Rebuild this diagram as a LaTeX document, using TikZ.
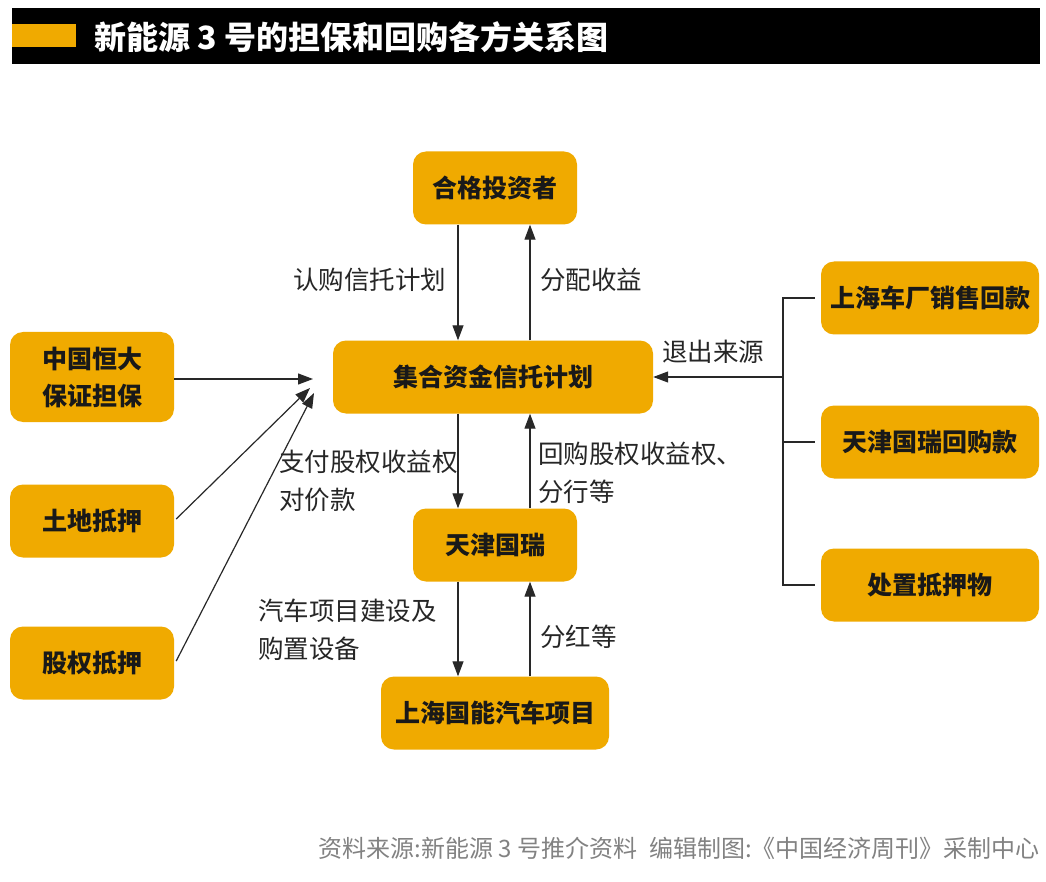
\documentclass[tikz,border=0pt]{standalone}
\usepackage{fontspec}
\setmainfont{Noto Sans CJK SC}
\usetikzlibrary{arrows.meta}
\definecolor{boxc}{RGB}{240,170,0}
\definecolor{linec}{RGB}{40,40,40}
\definecolor{footc}{RGB}{130,130,130}
\tikzset{
  box/.style={fill=boxc, rounded corners=13pt, minimum height=73pt, inner sep=0pt,
    font=\fontsize{25}{37}\selectfont\bfseries, text=black!90, align=center},
  lbl/.style={font=\fontsize{25.5}{38}\selectfont, text=black!85, anchor=west, align=left, inner sep=0pt},
  arr/.style={draw=linec, line width=1.2pt, -{Triangle[length=15pt,width=11pt]}},
  ln/.style={draw=linec, line width=1.2pt}
}
\begin{document}
\begin{tikzpicture}[x=1pt,y=-1pt]
\useasboundingbox (0,0) rectangle (1046,882);
\fill[white] (0,0) rectangle (1046,882);
% title
\fill[black] (12,8) rectangle (1040,64);
\fill[boxc] (12,24) rectangle (76,47);
\node[anchor=west, text=white, font=\fontsize{32}{34}\selectfont\bfseries, inner sep=0pt] (title) at (94,37) {新能源 3 号的担保和回购各方关系图};
% boxes
\node[box, minimum width=164pt] (hg) at (495,188) {合格投资者};
\node[box, minimum width=320pt] (jh) at (493,377) {集合资金信托计划};
\node[box, minimum width=164pt] (tj) at (495,545) {天津国瑞};
\node[box, minimum width=228pt] (sh) at (495,713) {上海国能汽车项目};
\node[box, minimum width=164pt, minimum height=90pt] (zg) at (92,377) {中国恒大\\保证担保};
\node[box, minimum width=164pt] (td) at (92,521) {土地抵押};
\node[box, minimum width=164pt] (gq) at (92,663) {股权抵押};
\node[box, minimum width=218pt] (s1) at (930,298) {上海车厂销售回款};
\node[box, minimum width=218pt] (s2) at (930,442) {天津国瑞回购款};
\node[box, minimum width=218pt] (s3) at (930,585) {处置抵押物};
% coordinates
\coordinate (xl) at (458,0);
\coordinate (xr) at (530,0);
\coordinate (bx) at (783,0);
\coordinate (t1) at (313,379);
\coordinate (t2) at (310,388);
\coordinate (t3) at (314,393);
% vertical arrows
\draw[arr] (hg.south -| xl) -- (jh.north -| xl);
\draw[arr] (jh.north -| xr) -- (hg.south -| xr);
\draw[arr] (jh.south -| xl) -- (tj.north -| xl);
\draw[arr] (tj.north -| xr) -- (jh.south -| xr);
\draw[arr] (tj.south -| xl) -- (sh.north -| xl);
\draw[arr] (sh.north -| xr) -- (tj.south -| xr);
% left arrows
\draw[arr] (zg.east |- t1) -- (t1);
\draw[arr] ([xshift=2pt,yshift=2pt]td.east) -- (t2);
\draw[arr] ([xshift=2pt,yshift=2pt]gq.east) -- (t3);
% right bracket
\draw[ln] ([xshift=-6pt]s1.west) -- (s1.west -| bx) -- (s3.west -| bx) -- ([xshift=-6pt]s3.west);
\draw[ln] (bx |- s2.west) -- ([xshift=-6pt]s2.west);
\draw[arr] (bx |- jh.east) -- (jh.east);
% labels
\node[lbl] (l1) at (293,280) {认购信托计划};
\node[lbl] (l2) at (540,280) {分配收益};
\node[lbl] (l3) at (279,481) {支付股权收益权\\对价款};
\node[lbl] (l4) at (538,473) {回购股权收益权、\\分行等};
\node[lbl] (l5) at (258,630) {汽车项目建设及\\购置设备};
\node[lbl] (l6) at (540,637) {分红等};
\node[lbl] (l7) at (662,352) {退出来源};
% footer
\node[anchor=east, text=footc, font=\fontsize{24}{26}\selectfont, inner sep=0pt] (foot) at (1040,848) {资料来源:新能源 3 号推介资料\hspace{12pt}编辑制图:《中国经济周刊》采制中心};
\end{tikzpicture}
\end{document}
